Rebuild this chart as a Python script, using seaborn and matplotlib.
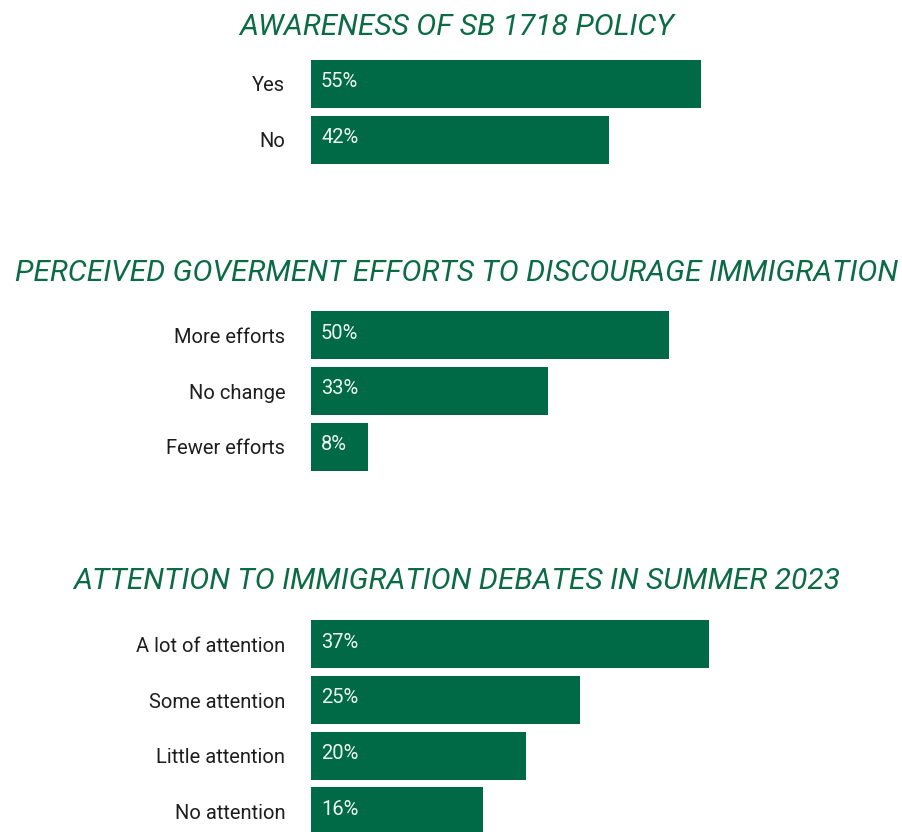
import matplotlib
matplotlib.use("Agg")
import matplotlib.pyplot as plt
import seaborn as sns
import pandas as pd

# Survey results (percent of respondents)
awareness_labels = ["Yes", "No"]
awareness_values = [55, 42]

efforts_labels = ["More efforts", "No change", "Fewer efforts"]
efforts_values = [50, 33, 8]

attention_labels = ["A lot of attention", "Some attention", "Little attention", "No attention"]
attention_values = [37, 25, 20, 16]

titles = [
    "AWARENESS OF SB 1718 POLICY",
    "PERCEIVED GOVERMENT EFFORTS TO DISCOURAGE IMMIGRATION",
    "ATTENTION TO IMMIGRATION DEBATES IN SUMMER 2023",
]

sns.set_theme(style="white")
plt.rcParams["font.family"] = ["Roboto", "DejaVu Sans"]

BAR = "#006a46"
TITLE = "#0b6b47"
LABEL = "#1e1e1e"

W, H = 903, 832
fig = plt.figure(figsize=(W / 100, H / 100), dpi=100)

pitch = 55.7  # pixels per category row
left_px = 311
panels = [
    (awareness_labels, awareness_values, 83.4, 56.0, 27),
    (efforts_labels, efforts_values, 82.6, 307.5, 273),
    (attention_labels, attention_values, 55.0, 616.5, 581),
]

for (labels, values, xmax, top_px, title_y), title in zip(panels, titles):
    n = len(labels)
    h_px = pitch * n
    ax = fig.add_axes([left_px / W, 1 - (top_px + h_px) / H, (W - left_px) / W, h_px / H])
    df = pd.DataFrame({"label": labels, "value": values})
    sns.barplot(data=df, x="value", y="label", orient="h", color=BAR,
                saturation=1, width=0.86, linewidth=0, ax=ax)
    ax.set_xlim(0, xmax)
    ax.set_ylim(n - 0.5, -0.5)
    ax.set_xlabel("")
    ax.set_ylabel("")
    ax.set_xticks([])
    for s in ax.spines.values():
        s.set_visible(False)
    ax.tick_params(axis="y", length=0, pad=18.5, labelsize=14.5, labelcolor=LABEL)
    for i, v in enumerate(values):
        ax.annotate(f"{v}%", xy=(0, i), xytext=(7.2, 1.5), textcoords="offset points",
                    ha="left", va="center", color="#eef5f1", fontsize=14.5)
    fig.text(457 / W, 1 - title_y / H, title, ha="center", va="center",
             color=TITLE, fontsize=21.6, fontstyle="italic")

fig.savefig("out.png", dpi=100, facecolor="white")
